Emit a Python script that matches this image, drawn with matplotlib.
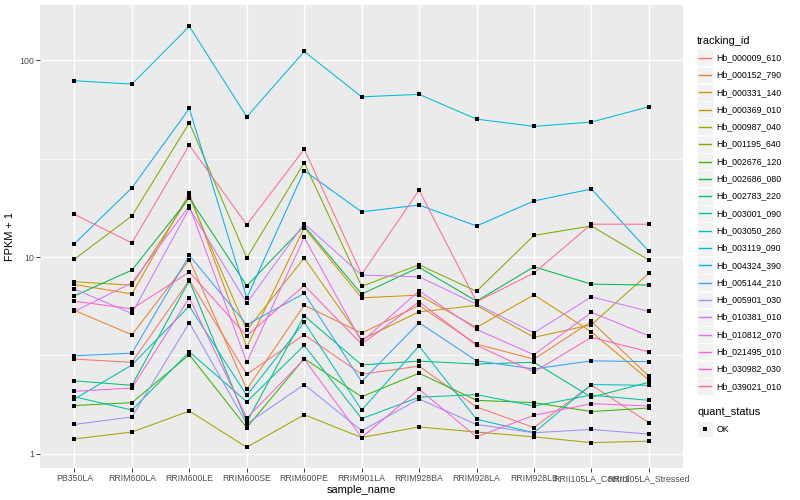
import numpy as np
import matplotlib
matplotlib.use("Agg")
import matplotlib.pyplot as plt
from matplotlib.patches import Rectangle
from matplotlib.lines import Line2D

plt.rcParams['font.family'] = ['Liberation Sans', 'DejaVu Sans']

samples = ["PB350LA", "RRIM600LA", "RRIM600LE", "RRIM600SE", "RRIM600PE", "RRIM901LA",
           "RRIM928BA", "RRIM928LA", "RRIM928LB", "RRII105LA_Control", "RRII105LA_Stressed"]

tracking_ids = ["Hb_000009_610", "Hb_000152_790", "Hb_000331_140", "Hb_000369_010",
                "Hb_000987_040", "Hb_001195_640", "Hb_002676_120", "Hb_002686_080",
                "Hb_002783_220", "Hb_003001_090", "Hb_003050_260", "Hb_003119_090",
                "Hb_004324_390", "Hb_005144_210", "Hb_005901_030", "Hb_010381_010",
                "Hb_010812_070", "Hb_021495_010", "Hb_030982_030", "Hb_039021_010"]

colors = ["#F8766D", "#EA8331", "#D89000", "#C09B00", "#A3A500", "#7CAE00", "#39B600",
          "#00BB4E", "#00BF7D", "#00C1A3", "#00BFC4", "#00BAE0", "#00B0F6", "#35A2FF",
          "#9590FF", "#C77CFF", "#E76BF3", "#FA62DB", "#FF62BC", "#FF6C91"]

Hb_000009_610 = [3.03, 2.92, 7.64, 2.54, 4.03, 2.54, 2.79, 1.73, 1.36, 2.24, 1.44]
Hb_000152_790 = [5.36, 4.03, 9.7, 2.13, 5.70, 4.11, 5.68, 3.61, 3.03, 4.71, 2.48]
Hb_000331_140 = [7.26, 6.5, 21.1, 3.49, 14.1, 6.21, 6.41, 4.39, 6.43, 4.17, 2.37]
Hb_000369_010 = [7.49, 7.2, 20.3, 4.26, 9.89, 3.81, 5.27, 5.68, 3.91, 4.53, 8.29]
Hb_000987_040 = [1.19, 1.29, 1.65, 1.08, 1.58, 1.21, 1.37, 1.29, 1.22, 1.14, 1.16]
Hb_001195_640 = [9.77, 16.2, 48.2, 9.9, 30.2, 7.1, 9.14, 6.7, 12.9, 14.4, 9.66]
Hb_002676_120 = [1.76, 1.82, 3.19, 1.36, 3.05, 1.95, 2.57, 1.87, 1.82, 1.64, 1.71]
Hb_002686_080 = [6.35, 8.59, 20.0, 7.15, 14.4, 6.49, 8.87, 5.97, 8.93, 7.29, 7.21]
Hb_002783_220 = [2.35, 2.23, 7.6, 1.45, 5.03, 2.83, 2.96, 2.86, 2.92, 1.94, 2.31]
Hb_003001_090 = [1.95, 1.67, 3.3, 1.84, 3.56, 1.51, 1.94, 2.00, 1.75, 1.99, 1.87]
Hb_003050_260 = [1.90, 2.83, 5.63, 1.98, 4.67, 1.67, 3.53, 1.50, 1.28, 2.25, 2.23]
Hb_003119_090 = [78.8, 75.8, 149, 51.7, 111, 65.3, 67.2, 50.3, 46.2, 48.6, 58.1]
Hb_004324_390 = [11.7, 22.5, 57, 6.2, 27.5, 17.0, 18.4, 14.4, 19.3, 22.2, 10.7]
Hb_005144_210 = [3.15, 3.25, 10.2, 4.53, 6.54, 2.33, 4.64, 2.97, 2.70, 2.97, 2.94]
Hb_005901_030 = [1.41, 1.54, 4.64, 1.42, 2.25, 1.31, 1.90, 1.41, 1.28, 1.33, 1.26]
Hb_010381_010 = [6.88, 5.17, 17.7, 5.84, 14.8, 8.1, 7.94, 5.77, 4.12, 6.28, 5.30]
Hb_010812_070 = [5.3, 7.4, 18.2, 2.92, 12.6, 3.71, 6.74, 4.29, 3.19, 5.24, 3.98]
Hb_021495_010 = [2.08, 2.16, 6.21, 1.52, 3.03, 1.21, 2.13, 1.22, 1.57, 1.80, 1.75]
Hb_030982_030 = [5.97, 5.46, 8.39, 3.98, 7.18, 3.61, 5.93, 3.56, 2.61, 3.91, 3.30]
Hb_039021_010 = [16.5, 11.8, 37.1, 14.6, 35.4, 8.17, 21.9, 5.93, 8.3, 14.7, 14.7]

series = [Hb_000009_610, Hb_000152_790, Hb_000331_140, Hb_000369_010, Hb_000987_040,
          Hb_001195_640, Hb_002676_120, Hb_002686_080, Hb_002783_220, Hb_003001_090,
          Hb_003050_260, Hb_003119_090, Hb_004324_390, Hb_005144_210, Hb_005901_030,
          Hb_010381_010, Hb_010812_070, Hb_021495_010, Hb_030982_030, Hb_039021_010]

W, H = 800, 500
fig = plt.figure(figsize=(8, 5), dpi=100)
L, R, T, B = 40, 683.3, 5.3, 468.3
ax = fig.add_axes([L / W, 1 - B / H, (R - L) / W, (B - T) / H])
ax.set_facecolor("#EBEBEB")
for s in ax.spines.values():
    s.set_visible(False)

x = np.arange(len(samples))
for vals, c in zip(series, colors):
    ax.plot(x, vals, color=c, lw=0.75, zorder=3)
for vals in series:
    ax.plot(x, vals, ls='none', marker='s', ms=2.5, mew=0, color='black', zorder=4)

ax.set_yscale('log')
allv = np.concatenate([np.asarray(v, float) for v in series])
lo, hi = np.log10(allv.min()), np.log10(allv.max())
pad = (hi - lo) * 0.05
ax.set_ylim(10 ** (lo - pad), 10 ** (hi + pad))
ax.set_xlim(-0.6, len(samples) - 1 + 0.6)

ax.set_yticks([1, 10, 100])
ax.set_yticklabels(["1", "10", "100"])
ax.yaxis.set_minor_locator(matplotlib.ticker.FixedLocator([10 ** 0.5, 10 ** 1.5]))
ax.yaxis.set_minor_formatter(matplotlib.ticker.NullFormatter())
ax.set_xticks(x)
ax.set_xticklabels(samples)

ax.grid(True, which='major', color='white', lw=1.0, zorder=0)
ax.grid(True, which='minor', axis='y', color='white', lw=0.5, zorder=0)
ax.set_axisbelow(True)
ax.tick_params(axis='both', which='major', length=2.8, width=0.7, color='#333333',
               labelsize=6.3, labelcolor='#4D4D4D', pad=1.5)
ax.tick_params(axis='y', which='minor', length=0)

ax.set_xlabel("sample_name", fontsize=7.9, color='black', labelpad=1.5)
ax.set_ylabel("FPKM + 1", fontsize=7.9, color='black', labelpad=3)

# Legend (ggplot style) in figure pixel coords
def fx(px):
    return px / W

def fy(py):
    return 1 - py / H

fig.text(fx(697), fy(40.5), "tracking_id", fontsize=7.9, va='center', ha='left')
for i, (tid, c) in enumerate(zip(tracking_ids, colors)):
    cy = 57.7 + 17.3 * i
    fig.patches.append(Rectangle((fx(697.3), fy(cy + 8.4)), 15.4 / W, 16.8 / H,
                                 transform=fig.transFigure, facecolor='#F2F2F2',
                                 edgecolor='white', lw=0.5))
    fig.lines.append(Line2D([fx(698.8), fx(711.2)], [fy(cy), fy(cy)],
                            transform=fig.transFigure, color=c, lw=1.0))
    fig.text(fx(716.7), fy(cy), tid, fontsize=6.3, va='center', ha='left')

fig.text(fx(697), fy(412.3), "quant_status", fontsize=7.9, va='center', ha='left')
fig.patches.append(Rectangle((fx(697.3), fy(429 + 8.4)), 15.4 / W, 16.8 / H,
                             transform=fig.transFigure, facecolor='#F2F2F2',
                             edgecolor='white', lw=0.5))
fig.lines.append(Line2D([fx(705)], [fy(429)], transform=fig.transFigure,
                        marker='s', ms=2.5, mew=0, color='black', ls='none'))
fig.text(fx(716.7), fy(429), "OK", fontsize=6.3, va='center', ha='left')

fig.savefig("out.png", dpi=100)
